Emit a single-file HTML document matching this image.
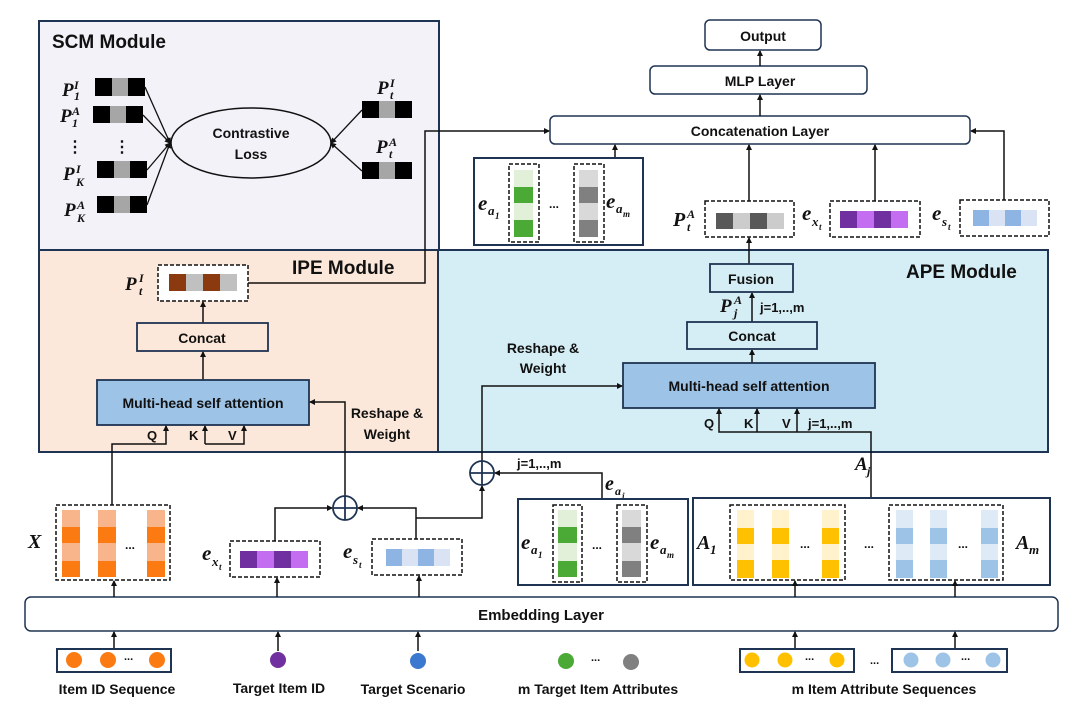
<!DOCTYPE html>
<html><head><meta charset="utf-8"><style>
html,body{margin:0;padding:0;background:#fff;}
svg{display:block;}
text{font-family:"Liberation Sans",sans-serif;font-weight:bold;fill:#111;}
.m{font-family:"Liberation Serif",serif;font-style:italic;font-weight:bold;}
</style></head><body>
<svg width="1080" height="712" viewBox="0 0 1080 712" xmlns="http://www.w3.org/2000/svg">
<defs>
<marker id="a" markerWidth="6" markerHeight="6" refX="5" refY="3" orient="auto" markerUnits="userSpaceOnUse"><path d="M0,0 L6,3 L0,6 z" fill="#111"/></marker>
</defs>
<rect x="39" y="21" width="400" height="229" fill="#f3f2f8" stroke="#1f3352" stroke-width="2"/>
<rect x="39" y="250" width="399" height="202" fill="#fce8da" stroke="#1f3352" stroke-width="2"/>
<rect x="438" y="250" width="610" height="202" fill="#d5edf4" stroke="#1f3352" stroke-width="2"/>
<text x="52" y="48" font-size="19">SCM Module</text>
<text x="292" y="274" font-size="19">IPE Module</text>
<text x="906" y="278" font-size="19">APE Module</text>

<g fill="#000">
<rect x="95" y="78" width="17" height="18"/><rect x="128" y="78" width="17" height="18"/>
<rect x="93" y="106" width="17" height="17"/><rect x="126" y="106" width="17" height="17"/>
<rect x="97" y="161" width="17" height="17"/><rect x="130" y="161" width="17" height="17"/>
<rect x="97" y="196" width="17" height="17"/><rect x="130" y="196" width="17" height="17"/>
<rect x="362" y="101" width="17" height="17"/><rect x="395" y="101" width="17" height="17"/>
<rect x="362" y="162" width="17" height="17"/><rect x="395" y="162" width="17" height="17"/>
</g>
<g fill="#a6a6a6">
<rect x="112" y="78" width="16" height="18"/><rect x="110" y="106" width="16" height="17"/>
<rect x="114" y="161" width="16" height="17"/><rect x="114" y="196" width="16" height="17"/>
<rect x="379" y="101" width="16" height="17"/><rect x="379" y="162" width="16" height="17"/>
</g>
<text class="m" x="62" y="96" font-size="19">P</text><text class="m" x="74" y="89" font-size="12">I</text><text class="m" x="74" y="100" font-size="12">1</text>
<text class="m" x="60" y="122" font-size="19">P</text><text class="m" x="72" y="115" font-size="12">A</text><text class="m" x="72" y="127" font-size="12">1</text>
<text x="67" y="152" font-size="16">⋮</text><text x="114" y="152" font-size="16">⋮</text>
<text class="m" x="63" y="180" font-size="19">P</text><text class="m" x="76" y="173" font-size="12">I</text><text class="m" x="76" y="186" font-size="12">K</text>
<text class="m" x="64" y="216" font-size="19">P</text><text class="m" x="77" y="209" font-size="12">A</text><text class="m" x="77" y="222" font-size="12">K</text>
<text class="m" x="377" y="94" font-size="19">P</text><text class="m" x="390" y="87" font-size="12">I</text><text class="m" x="390" y="99" font-size="12">t</text>
<text class="m" x="376" y="153" font-size="19">P</text><text class="m" x="389" y="146" font-size="12">A</text><text class="m" x="389" y="158" font-size="12">t</text>
<ellipse cx="251" cy="143" rx="80" ry="35" fill="none" stroke="#111" stroke-width="1.5"/>
<text x="251" y="138" font-size="14" text-anchor="middle" font-weight="normal">Contrastive</text>
<text x="251" y="159" font-size="14" text-anchor="middle" font-weight="normal">Loss</text>
<g stroke="#111" stroke-width="1.3" fill="none" marker-end="url(#a)">
<line x1="145" y1="87" x2="170" y2="143"/><line x1="143" y1="115" x2="170" y2="143"/>
<line x1="147" y1="170" x2="170" y2="143"/><line x1="147" y1="205" x2="170" y2="143"/>
<line x1="362" y1="110" x2="331" y2="143"/><line x1="362" y1="171" x2="331" y2="143"/>
</g>

<g fill="#fff" stroke="#1f3352" stroke-width="1.5">
<rect x="705" y="20" width="116" height="30" rx="5"/>
<rect x="650" y="66" width="217" height="28" rx="5"/>
<rect x="550" y="116" width="420" height="28" rx="5"/>
</g>
<text x="763" y="41" font-size="14" text-anchor="middle">Output</text>
<text x="760" y="86" font-size="14" text-anchor="middle">MLP Layer</text>
<text x="760" y="136" font-size="14" text-anchor="middle">Concatenation Layer</text>
<g stroke="#111" stroke-width="1.5" fill="none" marker-end="url(#a)">
<line x1="760" y1="66" x2="760" y2="51"/>
<line x1="760" y1="116" x2="760" y2="95"/>
<line x1="615" y1="158" x2="615" y2="145"/>
<line x1="749" y1="201" x2="749" y2="145"/>
<line x1="875" y1="201" x2="875" y2="145"/>
<polyline points="1004,200 1004,131 971,131"/>
<polyline points="248,283 425,283 425,131 549,131"/>
<line x1="749" y1="264" x2="749" y2="238"/>
<line x1="752" y1="322" x2="752" y2="293"/>
<line x1="752" y1="363" x2="752" y2="350"/>
<line x1="203" y1="323" x2="203" y2="302"/>
<line x1="203" y1="380" x2="203" y2="352"/>
</g>

<rect x="474" y="158" width="169" height="87" fill="#fff" stroke="#1f3352" stroke-width="2"/>
<g>
<rect x="514" y="170" width="19" height="17" fill="#e2f0d9"/><rect x="514" y="187" width="19" height="16" fill="#4aaa35"/><rect x="514" y="203" width="19" height="17" fill="#e2f0d9"/><rect x="514" y="220" width="19" height="17" fill="#4aaa35"/>
<rect x="579" y="170" width="19" height="17" fill="#d9d9d9"/><rect x="579" y="187" width="19" height="16" fill="#808080"/><rect x="579" y="203" width="19" height="17" fill="#d9d9d9"/><rect x="579" y="220" width="19" height="17" fill="#808080"/>
</g>
<g fill="none" stroke="#111" stroke-width="1.5" stroke-dasharray="4,2">
<rect x="509" y="164" width="30" height="78"/><rect x="574" y="164" width="30" height="78"/>
</g>
<text class="m" x="478" y="210" font-size="21">e</text><text class="m" x="488" y="215" font-size="13">a</text><text class="m" x="495" y="219" font-size="9">1</text>
<text x="549" y="208" font-size="12">...</text>
<text class="m" x="606" y="208" font-size="21">e</text><text class="m" x="616" y="213" font-size="13">a</text><text class="m" x="623" y="217" font-size="9">m</text>

<rect x="705" y="201" width="89" height="36" fill="#fff" stroke="#111" stroke-width="1.5" stroke-dasharray="4,2"/>
<rect x="716" y="213" width="17" height="16" fill="#595959"/><rect x="733" y="213" width="17" height="16" fill="#cccccc"/><rect x="750" y="213" width="17" height="16" fill="#595959"/><rect x="767" y="213" width="17" height="16" fill="#cccccc"/>
<text class="m" x="673" y="226" font-size="20">P</text><text class="m" x="687" y="218" font-size="12">A</text><text class="m" x="687" y="231" font-size="12">t</text>
<rect x="830" y="201" width="90" height="36" fill="#fff" stroke="#111" stroke-width="1.5" stroke-dasharray="4,2"/>
<rect x="840" y="211" width="17" height="17" fill="#7030a0"/><rect x="857" y="211" width="17" height="17" fill="#c36ef0"/><rect x="874" y="211" width="17" height="17" fill="#7030a0"/><rect x="891" y="211" width="17" height="17" fill="#c36ef0"/>
<text class="m" x="802" y="220" font-size="21">e</text><text class="m" x="812" y="226" font-size="13">x</text><text class="m" x="819" y="230" font-size="9">t</text>
<rect x="960" y="200" width="89" height="36" fill="#fff" stroke="#111" stroke-width="1.5" stroke-dasharray="4,2"/>
<rect x="973" y="210" width="16" height="16" fill="#8eb4e3"/><rect x="989" y="210" width="16" height="16" fill="#dae3f3"/><rect x="1005" y="210" width="16" height="16" fill="#8eb4e3"/><rect x="1021" y="210" width="16" height="16" fill="#dae3f3"/>
<text class="m" x="932" y="220" font-size="21">e</text><text class="m" x="942" y="226" font-size="13">s</text><text class="m" x="948" y="230" font-size="9">t</text>

<rect x="710" y="264" width="83" height="28" fill="#d5edf4" stroke="#1f3352" stroke-width="1.8"/>
<text x="751" y="284" font-size="14" text-anchor="middle">Fusion</text>
<text class="m" x="720" y="312" font-size="19">P</text><text class="m" x="734" y="304" font-size="12">A</text><text class="m" x="734" y="317" font-size="12">j</text>
<text x="760" y="312" font-size="13">j=1,..,m</text>
<rect x="687" y="322" width="130" height="27" fill="#d5edf4" stroke="#1f3352" stroke-width="1.8"/>
<text x="752" y="341" font-size="14" text-anchor="middle">Concat</text>
<rect x="623" y="363" width="252" height="45" fill="#9dc3e6" stroke="#1f3352" stroke-width="1.8"/>
<text x="749" y="391" font-size="14" text-anchor="middle">Multi-head self attention</text>
<text x="704" y="428" font-size="13">Q</text><text x="744" y="428" font-size="13">K</text><text x="782" y="428" font-size="13">V</text><text x="808" y="428" font-size="13">j=1,..,m</text>
<text x="543" y="353" font-size="14" text-anchor="middle">Reshape &amp;</text>
<text x="543" y="373" font-size="14" text-anchor="middle">Weight</text>
<g stroke="#111" stroke-width="1.5" fill="none" marker-end="url(#a)">
<polyline points="871,498 871,432 719,432 719,409"/>
<line x1="757" y1="432" x2="757" y2="409"/>
<line x1="797" y1="432" x2="797" y2="409"/>
<polyline points="482,461 482,386 622,386"/>
</g>
<text class="m" x="855" y="470" font-size="19">A</text><text class="m" x="867" y="475" font-size="12">j</text>

<rect x="158" y="265" width="90" height="36" fill="#fff" stroke="#111" stroke-width="1.5" stroke-dasharray="4,2"/>
<rect x="169" y="274" width="17" height="17" fill="#8b3a0f"/><rect x="186" y="274" width="17" height="17" fill="#c0c0c0"/><rect x="203" y="274" width="17" height="17" fill="#8b3a0f"/><rect x="220" y="274" width="17" height="17" fill="#c0c0c0"/>
<text class="m" x="125" y="290" font-size="19">P</text><text class="m" x="139" y="282" font-size="12">I</text><text class="m" x="139" y="295" font-size="12">t</text>
<rect x="137" y="323" width="131" height="28" fill="#fce8da" stroke="#1f3352" stroke-width="1.8"/>
<text x="202" y="343" font-size="14" text-anchor="middle">Concat</text>
<rect x="97" y="380" width="212" height="45" fill="#9dc3e6" stroke="#1f3352" stroke-width="1.8"/>
<text x="203" y="408" font-size="14" text-anchor="middle">Multi-head self attention</text>
<text x="147" y="440" font-size="13">Q</text><text x="189" y="440" font-size="13">K</text><text x="228" y="440" font-size="13">V</text>
<text x="387" y="418" font-size="14" text-anchor="middle">Reshape &amp;</text>
<text x="387" y="439" font-size="14" text-anchor="middle">Weight</text>
<g stroke="#111" stroke-width="1.5" fill="none" marker-end="url(#a)">
<polyline points="112,505 112,444 166,444 166,426"/>
<line x1="205" y1="444" x2="205" y2="426"/>
<polyline points="205,444 244,444 244,426"/>
<polyline points="345,496 345,402 310,402"/>
</g>

<g fill="none" stroke="#1f3352" stroke-width="1.8">
<circle cx="345" cy="508" r="12"/><line x1="333" y1="508" x2="357" y2="508"/><line x1="345" y1="496" x2="345" y2="520"/>
<circle cx="482" cy="473" r="12"/><line x1="470" y1="473" x2="494" y2="473"/><line x1="482" y1="461" x2="482" y2="485"/>
</g>
<g stroke="#111" stroke-width="1.5" fill="none" marker-end="url(#a)">
<polyline points="275,541 275,508 332,508"/>
<polyline points="416,539 416,508 358,508"/>
<polyline points="416,518 482,518 482,486"/>
<polyline points="602,499 602,473 495,473"/>
</g>
<text x="517" y="468" font-size="13">j=1,..,m</text>
<text class="m" x="605" y="490" font-size="20">e</text><text class="m" x="615" y="495" font-size="12">a</text><text class="m" x="622" y="499" font-size="9">j</text>

<rect x="56" y="505" width="114" height="75" fill="#fff" stroke="#111" stroke-width="1.5" stroke-dasharray="4,2"/>
<g>
<rect x="62" y="510" width="18" height="17" fill="#f8b48a"/><rect x="62" y="527" width="18" height="16" fill="#fb7a12"/><rect x="62" y="543" width="18" height="18" fill="#f8b48a"/><rect x="62" y="561" width="18" height="16" fill="#fb7a12"/>
<rect x="98" y="510" width="18" height="17" fill="#f8b48a"/><rect x="98" y="527" width="18" height="16" fill="#fb7a12"/><rect x="98" y="543" width="18" height="18" fill="#f8b48a"/><rect x="98" y="561" width="18" height="16" fill="#fb7a12"/>
<rect x="147" y="510" width="18" height="17" fill="#f8b48a"/><rect x="147" y="527" width="18" height="16" fill="#fb7a12"/><rect x="147" y="543" width="18" height="18" fill="#f8b48a"/><rect x="147" y="561" width="18" height="16" fill="#fb7a12"/>
</g>
<text x="125" y="549" font-size="12">...</text>
<text class="m" x="28" y="548" font-size="20">X</text>

<rect x="230" y="541" width="90" height="36" fill="#fff" stroke="#111" stroke-width="1.5" stroke-dasharray="4,2"/>
<rect x="240" y="551" width="17" height="17" fill="#7030a0"/><rect x="257" y="551" width="17" height="17" fill="#c36ef0"/><rect x="274" y="551" width="17" height="17" fill="#7030a0"/><rect x="291" y="551" width="17" height="17" fill="#c36ef0"/>
<text class="m" x="202" y="560" font-size="21">e</text><text class="m" x="212" y="566" font-size="13">x</text><text class="m" x="219" y="570" font-size="9">t</text>
<rect x="372" y="539" width="90" height="36" fill="#fff" stroke="#111" stroke-width="1.5" stroke-dasharray="4,2"/>
<rect x="386" y="549" width="16" height="17" fill="#8eb4e3"/><rect x="402" y="549" width="16" height="17" fill="#dae3f3"/><rect x="418" y="549" width="16" height="17" fill="#8eb4e3"/><rect x="434" y="549" width="16" height="17" fill="#dae3f3"/>
<text class="m" x="343" y="558" font-size="21">e</text><text class="m" x="353" y="564" font-size="13">s</text><text class="m" x="359" y="568" font-size="9">t</text>

<rect x="518" y="499" width="170" height="86" fill="#fff" stroke="#1f3352" stroke-width="2"/>
<g>
<rect x="558" y="510" width="19" height="17" fill="#e2f0d9"/><rect x="558" y="527" width="19" height="16" fill="#4aaa35"/><rect x="558" y="543" width="19" height="18" fill="#e2f0d9"/><rect x="558" y="561" width="19" height="16" fill="#4aaa35"/>
<rect x="622" y="510" width="19" height="17" fill="#d9d9d9"/><rect x="622" y="527" width="19" height="16" fill="#808080"/><rect x="622" y="543" width="19" height="18" fill="#d9d9d9"/><rect x="622" y="561" width="19" height="16" fill="#808080"/>
</g>
<g fill="none" stroke="#111" stroke-width="1.5" stroke-dasharray="4,2">
<rect x="553" y="505" width="29" height="77"/><rect x="617" y="505" width="30" height="77"/>
</g>
<text class="m" x="521" y="549" font-size="21">e</text><text class="m" x="531" y="554" font-size="13">a</text><text class="m" x="538" y="558" font-size="9">1</text>
<text x="592" y="549" font-size="12">...</text>
<text class="m" x="650" y="549" font-size="21">e</text><text class="m" x="660" y="554" font-size="13">a</text><text class="m" x="667" y="558" font-size="9">m</text>

<rect x="693" y="498" width="357" height="87" fill="#fff" stroke="#1f3352" stroke-width="2"/>
<g>
<rect x="737" y="510" width="17" height="18" fill="#fff2cc"/><rect x="737" y="528" width="17" height="16" fill="#ffc000"/><rect x="737" y="544" width="17" height="16" fill="#fff2cc"/><rect x="737" y="560" width="17" height="18" fill="#ffc000"/>
<rect x="772" y="510" width="17" height="18" fill="#fff2cc"/><rect x="772" y="528" width="17" height="16" fill="#ffc000"/><rect x="772" y="544" width="17" height="16" fill="#fff2cc"/><rect x="772" y="560" width="17" height="18" fill="#ffc000"/>
<rect x="822" y="510" width="17" height="18" fill="#fff2cc"/><rect x="822" y="528" width="17" height="16" fill="#ffc000"/><rect x="822" y="544" width="17" height="16" fill="#fff2cc"/><rect x="822" y="560" width="17" height="18" fill="#ffc000"/>
<rect x="896" y="510" width="17" height="18" fill="#deebf7"/><rect x="896" y="528" width="17" height="16" fill="#9dc3e6"/><rect x="896" y="544" width="17" height="16" fill="#deebf7"/><rect x="896" y="560" width="17" height="18" fill="#9dc3e6"/>
<rect x="930" y="510" width="17" height="18" fill="#deebf7"/><rect x="930" y="528" width="17" height="16" fill="#9dc3e6"/><rect x="930" y="544" width="17" height="16" fill="#deebf7"/><rect x="930" y="560" width="17" height="18" fill="#9dc3e6"/>
<rect x="981" y="510" width="17" height="18" fill="#deebf7"/><rect x="981" y="528" width="17" height="16" fill="#9dc3e6"/><rect x="981" y="544" width="17" height="16" fill="#deebf7"/><rect x="981" y="560" width="17" height="18" fill="#9dc3e6"/>
</g>
<g fill="none" stroke="#111" stroke-width="1.5" stroke-dasharray="4,2">
<rect x="730" y="505" width="115" height="75"/><rect x="889" y="505" width="114" height="75"/>
</g>
<text x="800" y="548" font-size="12">...</text><text x="864" y="548" font-size="12">...</text><text x="958" y="548" font-size="12">...</text>
<text class="m" x="697" y="549" font-size="20">A</text><text class="m" x="710" y="554" font-size="13">1</text>
<text class="m" x="1016" y="549" font-size="20">A</text><text class="m" x="1029" y="554" font-size="13">m</text>

<rect x="25" y="597" width="1033" height="34" rx="6" fill="#fff" stroke="#1f3352" stroke-width="1.5"/>
<text x="541" y="620" font-size="15" text-anchor="middle">Embedding Layer</text>
<g stroke="#111" stroke-width="1.5" fill="none" marker-end="url(#a)">
<line x1="114" y1="597" x2="114" y2="581"/>
<line x1="277" y1="597" x2="277" y2="578"/>
<line x1="419" y1="597" x2="419" y2="576"/>
<line x1="795" y1="597" x2="795" y2="581"/>
<line x1="955" y1="597" x2="955" y2="581"/>
<line x1="114" y1="649" x2="114" y2="632"/>
<line x1="278" y1="651" x2="278" y2="632"/>
<line x1="418" y1="651" x2="418" y2="632"/>
<line x1="795" y1="649" x2="795" y2="632"/>
<line x1="955" y1="649" x2="955" y2="632"/>
</g>

<rect x="57" y="649" width="114" height="23" fill="#fff" stroke="#1f3352" stroke-width="2"/>
<circle cx="74" cy="660" r="8" fill="#fb7a12"/><circle cx="108" cy="660" r="8" fill="#fb7a12"/><circle cx="157" cy="660" r="8" fill="#fb7a12"/>
<text x="124" y="660" font-size="11">...</text>
<circle cx="278" cy="660" r="8" fill="#7030a0"/>
<circle cx="418" cy="661" r="8" fill="#3b78d0"/>
<circle cx="566" cy="661" r="8" fill="#4aaa35"/><text x="591" y="661" font-size="11">...</text><circle cx="631" cy="662" r="8" fill="#808080"/>
<rect x="740" y="649" width="114" height="23" fill="#fff" stroke="#1f3352" stroke-width="2"/>
<circle cx="752" cy="660" r="7.5" fill="#ffc000"/><circle cx="785" cy="660" r="7.5" fill="#ffc000"/><circle cx="837" cy="660" r="7.5" fill="#ffc000"/><text x="805" y="660" font-size="11">...</text>
<text x="870" y="664" font-size="11">...</text>
<rect x="892" y="649" width="115" height="23" fill="#fff" stroke="#1f3352" stroke-width="2"/>
<circle cx="911" cy="660" r="7.5" fill="#9dc3e6"/><circle cx="943" cy="660" r="7.5" fill="#9dc3e6"/><circle cx="993" cy="660" r="7.5" fill="#9dc3e6"/><text x="961" y="660" font-size="11">...</text>
<g font-size="14">
<text x="117" y="694" text-anchor="middle">Item ID Sequence</text>
<text x="279" y="693" text-anchor="middle">Target Item ID</text>
<text x="413" y="694" text-anchor="middle">Target Scenario</text>
<text x="598" y="694" text-anchor="middle">m Target Item Attributes</text>
<text x="884" y="694" text-anchor="middle">m Item Attribute Sequences</text>
</g>
</svg>
</body></html>
